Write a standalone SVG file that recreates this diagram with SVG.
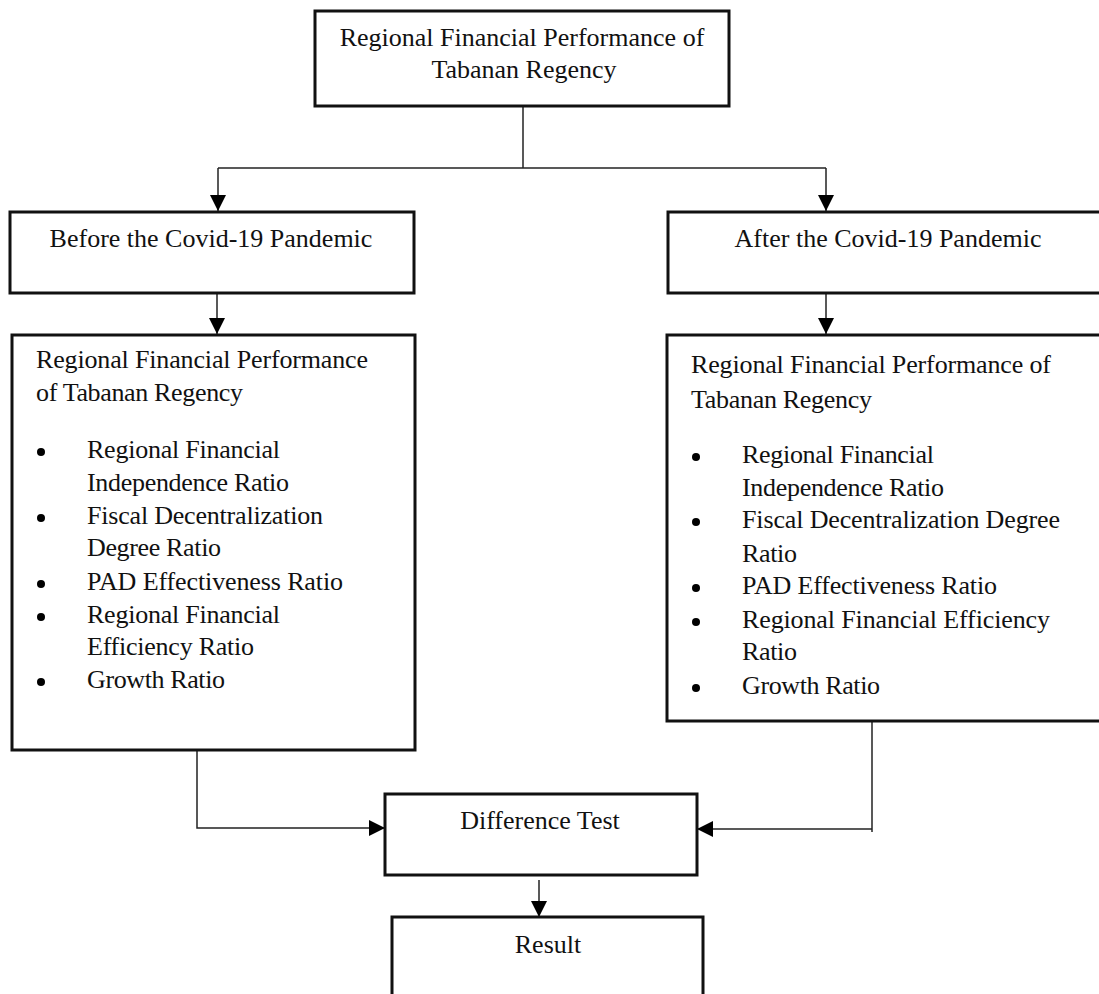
<svg xmlns="http://www.w3.org/2000/svg" width="1099" height="994" viewBox="0 0 1099 994">
<defs>
<style>
.box{fill:#fff;stroke:#111;stroke-width:3}
.t{font-family:"Liberation Serif","Times New Roman",serif;font-size:26px;fill:#111}
.c{text-anchor:middle}
.dot{fill:#000}
.ln{fill:none;stroke:#222;stroke-width:1.5}
</style>
<marker id="ah" viewBox="0 0 16 16" refX="16" refY="8" markerWidth="16" markerHeight="16" markerUnits="userSpaceOnUse" orient="auto">
<path d="M0,0 L16,8 L0,16 Z" fill="#000"/>
</marker>
</defs>
<rect width="1099" height="994" fill="#fff"/>

<g id="connectors">
<polyline class="ln" points="523,106 523,168"/>
<polyline class="ln" points="218,168 826,168"/>
<line class="ln" x1="218" y1="168" x2="218" y2="211" marker-end="url(#ah)"/>
<line class="ln" x1="826" y1="168" x2="826" y2="211" marker-end="url(#ah)"/>
<line class="ln" x1="217" y1="293" x2="217" y2="334" marker-end="url(#ah)"/>
<line class="ln" x1="826" y1="293" x2="826" y2="334" marker-end="url(#ah)"/>
<polyline class="ln" points="197,750 197,828 385,828" marker-end="url(#ah)"/>
<line class="ln" x1="872" y1="721" x2="872" y2="832"/>
<line class="ln" x1="872" y1="829" x2="697" y2="829" marker-end="url(#ah)"/>
<line class="ln" x1="539" y1="880" x2="539" y2="917" marker-end="url(#ah)"/>
</g>

<g id="top">
<rect class="box" x="315" y="11" width="414" height="95"/>
<text class="t c" x="522" y="46">Regional Financial Performance of</text>
<text class="t c" x="524" y="78">Tabanan Regency</text>
</g>

<g id="before">
<rect class="box" x="10" y="212" width="404" height="81"/>
<text class="t c" x="211" y="247">Before the Covid-19 Pandemic</text>
</g>

<g id="after">
<rect class="box" x="668" y="212" width="445" height="81"/>
<text class="t c" x="888" y="247">After the Covid-19 Pandemic</text>
</g>

<g id="left-indicators">
<rect class="box" x="12" y="335" width="403" height="415"/>
<text class="t" x="36" y="368" textLength="332">Regional Financial Performance</text>
<text class="t" x="36" y="401" textLength="207">of Tabanan Regency</text>
<circle class="dot" cx="41" cy="452" r="4"/>
<text class="t" x="87" y="458" textLength="193">Regional Financial</text>
<text class="t" x="87" y="491" textLength="202">Independence Ratio</text>
<circle class="dot" cx="41" cy="518" r="4"/>
<text class="t" x="87" y="524" textLength="236">Fiscal Decentralization</text>
<text class="t" x="87" y="556" textLength="134">Degree Ratio</text>
<circle class="dot" cx="41" cy="584" r="4"/>
<text class="t" x="87" y="590" textLength="256">PAD Effectiveness Ratio</text>
<circle class="dot" cx="41" cy="617" r="4"/>
<text class="t" x="87" y="623" textLength="193">Regional Financial</text>
<text class="t" x="87" y="655" textLength="167">Efficiency Ratio</text>
<circle class="dot" cx="41" cy="682" r="4"/>
<text class="t" x="87" y="688" textLength="138">Growth Ratio</text>
</g>

<g id="right-indicators">
<rect class="box" x="667" y="335" width="445" height="386"/>
<text class="t" x="691" y="373" textLength="360">Regional Financial Performance of</text>
<text class="t" x="691" y="408" textLength="181">Tabanan Regency</text>
<circle class="dot" cx="696" cy="457" r="4"/>
<text class="t" x="742" y="463" textLength="192">Regional Financial</text>
<text class="t" x="742" y="496" textLength="202">Independence Ratio</text>
<circle class="dot" cx="696" cy="522" r="4"/>
<text class="t" x="742" y="528" textLength="318">Fiscal Decentralization Degree</text>
<text class="t" x="742" y="562" textLength="55">Ratio</text>
<circle class="dot" cx="696" cy="588" r="4"/>
<text class="t" x="742" y="594" textLength="255">PAD Effectiveness Ratio</text>
<circle class="dot" cx="696" cy="622" r="4"/>
<text class="t" x="742" y="628" textLength="308">Regional Financial Efficiency</text>
<text class="t" x="742" y="660" textLength="55">Ratio</text>
<circle class="dot" cx="696" cy="688" r="4"/>
<text class="t" x="742" y="694" textLength="138">Growth Ratio</text>
</g>

<g id="difference-test">
<rect class="box" x="385" y="794" width="312" height="81"/>
<text class="t c" x="540" y="829">Difference Test</text>
</g>

<g id="result">
<rect class="box" x="392" y="917" width="311" height="95"/>
<text class="t c" x="548" y="953">Result</text>
</g>
</svg>
